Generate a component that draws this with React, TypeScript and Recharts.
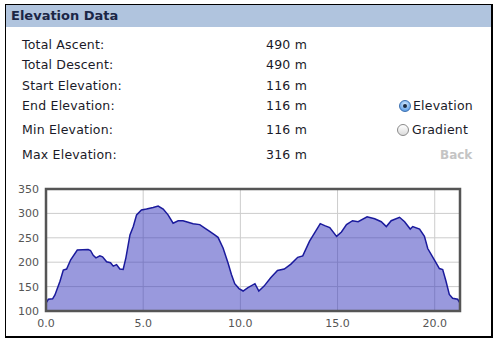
import React from "react";
import {
  AreaChart,
  Area,
  XAxis,
  YAxis,
  CartesianGrid,
  ReferenceArea,
} from "recharts";

// distance (km) / elevation (m)
const distances = [
  0, 0.12, 0.34, 0.46, 0.72, 0.89, 1.06, 1.27, 1.61, 2.17, 2.29, 2.43, 2.57,
  2.77, 2.91, 3.12, 3.32, 3.46, 3.63, 3.8, 3.97, 4.11, 4.32, 4.49, 4.66, 4.91,
  5.17, 5.51, 5.77, 6.03, 6.28, 6.54, 6.8, 7.05, 7.31, 7.57, 7.91, 8.17, 8.42,
  8.68, 8.85, 9.11, 9.37, 9.54, 9.71, 9.93, 10.14, 10.39, 10.75, 10.95, 11.22,
  11.56, 11.91, 12.26, 12.6, 12.95, 13.21, 13.56, 13.82, 14.11, 14.34, 14.6,
  14.95, 15.2, 15.46, 15.77, 16.06, 16.52, 16.91, 17.25, 17.51, 17.76, 18.19,
  18.45, 18.74, 18.87, 19.22, 19.47, 19.64, 19.98, 20.24, 20.41, 20.58, 20.75,
  20.92, 21.18, 21.3,
];
const elevations = [
  116, 124, 125, 133, 161, 184, 186, 205, 225, 226, 224, 214, 209, 213, 211,
  201, 199, 192, 195, 186, 185, 209, 256, 273, 297, 307, 309, 312, 315, 309,
  297, 280, 285, 285, 282, 279, 277, 270, 263, 256, 251, 229, 198, 175, 156,
  146, 141, 148, 156, 141, 151, 168, 183, 186, 196, 210, 213, 243, 260, 279,
  275, 271, 253, 262, 277, 285, 283, 293, 289, 283, 273, 285, 292, 283, 268,
  273, 268, 253, 228, 205, 187, 185, 161, 134, 126, 124, 116,
];
const xTicks = [0, 5, 10, 15, 20];
const yTicks = [100, 150, 200, 250, 300, 350];

const statLabels = [
  "Total Ascent:",
  "Total Descent:",
  "Start Elevation:",
  "End Elevation:",
  "Min Elevation:",
  "Max Elevation:",
];
const statValues = ["490 m", "490 m", "116 m", "116 m", "116 m", "316 m"];
const rowCenters = [45, 65, 86, 106, 130, 155];

const data = distances.map((d, i) => ({ d, e: elevations[i] }));

const font = "Verdana, 'DejaVu Sans', sans-serif";

function Radio({ checked }: { checked: boolean }) {
  return (
    <div
      style={{
        width: 10,
        height: 10,
        borderRadius: "50%",
        border: checked ? "1px solid #3a6fb0" : "1px solid #8a8a8a",
        background: checked
          ? "radial-gradient(circle at 50% 35%, #d8ecff, #6aa6e8 70%, #3f7fcf)"
          : "linear-gradient(#ffffff, #dcdcdc)",
        display: "flex",
        alignItems: "center",
        justifyContent: "center",
      }}
    >
      {checked && (
        <div style={{ width: 4, height: 4, borderRadius: "50%", background: "#1a2a40" }} />
      )}
    </div>
  );
}

export default function App() {
  const text = { fontSize: 12.5, color: "#1a1a28", lineHeight: "16px", letterSpacing: 0.2 };
  return (
    <div
      style={{
        position: "absolute",
        left: 0,
        top: 0,
        width: 495,
        height: 342,
        background: "#fff",
        fontFamily: font,
      }}
    >
      <div
        style={{
          position: "absolute",
          left: 5,
          top: 4,
          width: 485,
          height: 331,
          borderTop: "1px solid #000",
          borderLeft: "1px solid #000",
          borderRight: "2px solid #000",
          borderBottom: "2px solid #000",
        }}
      />
      <div
        style={{
          position: "absolute",
          left: 6,
          top: 5,
          width: 485,
          height: 22,
          background: "#b0c4de",
        }}
      />
      <div
        style={{
          position: "absolute",
          left: 11,
          top: 7,
          lineHeight: "18px",
          fontSize: 13,
          fontWeight: "bold",
          color: "#1b2646",
        }}
      >
        Elevation Data
      </div>

      {statLabels.map((label, i) => (
        <React.Fragment key={label}>
          <div style={{ position: "absolute", left: 22, top: rowCenters[i] - 8, ...text }}>
            {label}
          </div>
          <div style={{ position: "absolute", left: 266, top: rowCenters[i] - 8, ...text }}>
            {statValues[i]}
          </div>
        </React.Fragment>
      ))}

      <div style={{ position: "absolute", left: 399, top: 98, display: "flex", alignItems: "center", gap: 2 }}>
        <Radio checked />
        <span style={text}>Elevation</span>
      </div>
      <div style={{ position: "absolute", left: 397, top: 122, display: "flex", alignItems: "center", gap: 3 }}>
        <Radio checked={false} />
        <span style={text}>Gradient</span>
      </div>
      <div
        style={{
          position: "absolute",
          left: 440,
          top: 147,
          fontSize: 12,
          fontWeight: "bold",
          color: "#c4c4c4",
          lineHeight: "16px",
        }}
      >
        Back
      </div>

      <div style={{ position: "absolute", left: 0, top: 180 }}>
        <AreaChart
          width={480}
          height={155}
          data={data}
          margin={{ top: 9, right: 20, bottom: 0, left: 0 }}
        >
          <CartesianGrid stroke="#cccccc" strokeWidth={1} />
          <XAxis
            dataKey="d"
            type="number"
            domain={[0, 21.3]}
            ticks={xTicks}
            tickFormatter={(v: number) => v.toFixed(1)}
            axisLine={false}
            tickLine={false}
            tickSize={0}
            tickMargin={8}
            height={24}
            tick={{ fill: "#555", fontSize: 11, fontFamily: font }}
          />
          <YAxis
            dataKey="e"
            type="number"
            domain={[100, 350]}
            ticks={yTicks}
            axisLine={false}
            tickLine={false}
            tickSize={0}
            tickMargin={7}
            width={46}
            tick={{ fill: "#555", fontSize: 11, fontFamily: font }}
          />
          <Area
            type="linear"
            dataKey="e"
            stroke="#1a1a9c"
            strokeWidth={1.5}
            fill="#3333bb"
            fillOpacity={0.5}
            isAnimationActive={false}
          />
          <ReferenceArea
            x1={0}
            x2={21.3}
            y1={100}
            y2={350}
            fill="none"
            stroke="#555"
            strokeWidth={2.5}
            ifOverflow="visible"
          />
        </AreaChart>
      </div>
    </div>
  );
}
